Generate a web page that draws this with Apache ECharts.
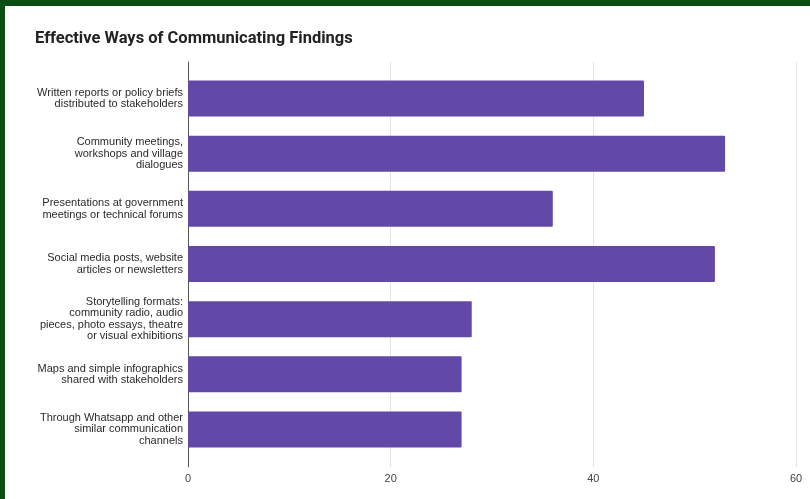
<!DOCTYPE html>
<html>
<head>
<meta charset="utf-8">
<script src="https://cdn.jsdelivr.net/npm/echarts@6/dist/echarts.min.js"></script>
<style>
  html, body { margin: 0; padding: 0; background: #0b4d12; }
  #chart { width: 810px; height: 499px; }
</style>
</head>
<body>
<div id="chart"></div>
<script>
const title = 'Effective Ways of Communicating Findings';
const categories = [
  'Written reports or policy briefs\ndistributed to stakeholders',
  'Community meetings,\nworkshops and village\ndialogues',
  'Presentations at government\nmeetings or technical forums',
  'Social media posts, website\narticles or newsletters',
  'Storytelling formats:\ncommunity radio, audio\npieces, photo essays, theatre\nor visual exhibitions',
  'Maps and simple infographics\nshared with stakeholders',
  'Through Whatsapp and other\nsimilar communication\nchannels'
];
const values = [45, 53, 36, 52, 28, 27, 27];
const axisMin = 0;
const axisMax = 60;
const axisStep = 20;

const chart = echarts.init(document.getElementById('chart'), null, { renderer: 'canvas' });
chart.setOption({
  backgroundColor: 'transparent',
  animation: false,
  graphic: [{
    type: 'rect', left: 5, top: 6, z: -10, silent: true,
    shape: { width: 805, height: 493 },
    style: { fill: '#ffffff' }
  }],
  title: {
    text: title, left: 30, top: 25,
    textStyle: { fontFamily: 'Roboto', fontWeight: 'bold', fontSize: 16.5, color: '#222222' }
  },
  grid: [
    { left: 188, right: 14, top: 62, bottom: 32 },
    { left: 188, right: 14, top: 71, bottom: 42 }
  ],
  xAxis: [
    {
      gridIndex: 0, type: 'value', min: axisMin, max: axisMax, interval: axisStep,
      axisLine: { show: false }, axisTick: { show: false },
      splitLine: { show: true, lineStyle: { color: '#e2e2e2', width: 1 } },
      axisLabel: { color: '#444444', fontSize: 11, fontFamily: 'Liberation Sans', margin: 6 }
    },
    {
      gridIndex: 1, type: 'value', min: axisMin, max: axisMax, show: false
    }
  ],
  yAxis: [
    {
      gridIndex: 0, type: 'value', min: 0, max: 1,
      axisLine: { show: true, lineStyle: { color: '#555555', width: 1 } },
      axisTick: { show: false }, axisLabel: { show: false }, splitLine: { show: false }
    },
    {
      gridIndex: 1, type: 'category', inverse: true, data: categories,
      axisLine: { show: false }, axisTick: { show: false }, splitLine: { show: false },
      axisLabel: {
        color: '#2a2a2a', fontSize: 11, fontFamily: 'Liberation Sans',
        lineHeight: 11.5, margin: 5, align: 'right'
      }
    }
  ],
  series: [{
    type: 'bar', xAxisIndex: 1, yAxisIndex: 1,
    data: values, barWidth: 36,
    itemStyle: { color: '#6248a7', borderRadius: 1 }
  }]
});
</script>
</body>
</html>
